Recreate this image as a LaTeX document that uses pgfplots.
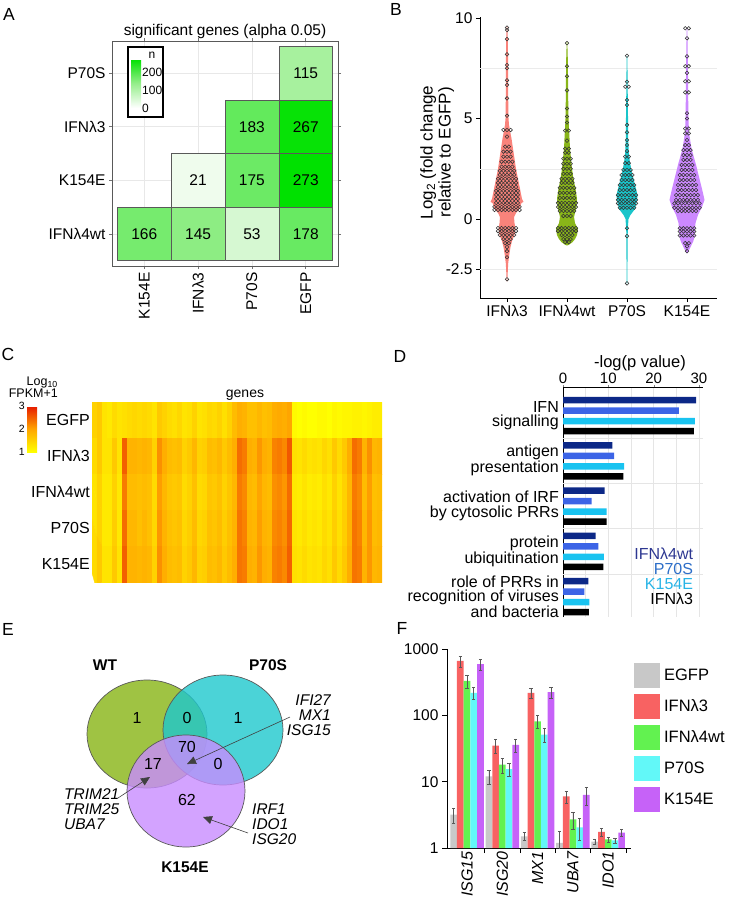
\documentclass[border=0pt]{standalone}
\usepackage{fontspec}
\setmainfont{Liberation Sans}
\usepackage{pgfplots}
\pgfplotsset{compat=1.18}
\usetikzlibrary{calc,arrows.meta}
\newcommand{\fsz}[1]{\fontsize{#1}{#1}\selectfont}

\definecolor{vred}{RGB}{248,118,109}
\definecolor{vgreen}{RGB}{124,174,0}
\definecolor{vcyan}{RGB}{0,191,196}
\definecolor{vpurple}{RGB}{199,124,255}
\definecolor{dnavy}{RGB}{12,40,135}
\definecolor{dblue}{RGB}{60,100,230}
\definecolor{dcyan}{RGB}{25,195,240}
\definecolor{tnavy}{RGB}{45,55,145}
\definecolor{tblue}{RGB}{45,110,200}
\definecolor{tcyan}{RGB}{40,180,230}
\definecolor{fgray}{RGB}{200,200,200}
\definecolor{fred}{RGB}{248,98,98}
\definecolor{fgreen}{RGB}{98,242,80}
\definecolor{fcyan}{RGB}{98,248,248}
\definecolor{fpurple}{RGB}{198,98,248}
\definecolor{vwt}{RGB}{135,180,20}
\definecolor{vpp}{RGB}{30,200,205}
\definecolor{vk}{RGB}{200,140,255}

\pgfplotsset{every axis/.append style={scale only axis, anchor=north west,
  /pgf/number format/assume math mode=true,
  font=\fsz{16}, tick label style={font=\fsz{15.5}}}}

\begin{document}
\begin{tikzpicture}
\path[use as bounding box] (0pt,0pt) rectangle (728pt,-899pt);

% ---------------- A: heat map of significant genes
\begin{axis}[at={(112pt,-41pt)}, width=226pt, height=225pt,
  xmin=0.4, xmax=4.6, ymin=0.4, ymax=4.6,
  xtick={1,2,3,4}, xticklabels={K154E,IFNλ3,P70S,EGFP},
  ytick={1,2,3,4}, yticklabels={IFNλ4wt,K154E,IFNλ3,P70S},
  xticklabel style={rotate=90, anchor=east},
  tick align=outside, major tick length=3pt,
  tick style={black!55, line width=0.6pt},
  axis line style={black!65, line width=0.9pt},
  grid=major, grid style={black!9, line width=0.6pt},
  title={significant genes (alpha 0.05)}, title style={inner sep=0pt, yshift=-4pt, font=\fsz{15.5}},
  colormap={wg}{rgb255(0cm)=(255,255,255) rgb255(1cm)=(150,238,140) rgb255(2cm)=(0,225,0)},
  point meta min=0, point meta max=273,
  colorbar,
  colorbar style={at={($(parent axis.north west)+(10.5pt,-18pt)$)}, anchor=north west,
    width=10pt, height=49pt, ytick={0,100,200}, major tick length=0pt,
    axis line style={draw=none}, yticklabel style={font=\fsz{12}, inner sep=1pt}},
]
\draw[fill=white, line width=1.2pt] (rel axis cs:0.0708,0.662) rectangle (rel axis cs:0.2257,0.973);
\addplot[patch, patch type=rectangle, shader=faceted, faceted color=black!65, line width=0.6pt, point meta=explicit]
 coordinates {
 (3.5,3.5)[115] (4.5,3.5)[115] (4.5,4.5)[115] (3.5,4.5)[115]
 (2.5,2.5)[183] (3.5,2.5)[183] (3.5,3.5)[183] (2.5,3.5)[183]
 (3.5,2.5)[267] (4.5,2.5)[267] (4.5,3.5)[267] (3.5,3.5)[267]
 (1.5,1.5)[21] (2.5,1.5)[21] (2.5,2.5)[21] (1.5,2.5)[21]
 (2.5,1.5)[175] (3.5,1.5)[175] (3.5,2.5)[175] (2.5,2.5)[175]
 (3.5,1.5)[273] (4.5,1.5)[273] (4.5,2.5)[273] (3.5,2.5)[273]
 (0.5,0.5)[166] (1.5,0.5)[166] (1.5,1.5)[166] (0.5,1.5)[166]
 (1.5,0.5)[145] (2.5,0.5)[145] (2.5,1.5)[145] (1.5,1.5)[145]
 (2.5,0.5)[53] (3.5,0.5)[53] (3.5,1.5)[53] (2.5,1.5)[53]
 (3.5,0.5)[178] (4.5,0.5)[178] (4.5,1.5)[178] (3.5,1.5)[178]
 };
\addplot[draw=none, mark=none, point meta=explicit symbolic, nodes near coords, nodes near coords align={center},
  every node near coord/.append style={black, font=\fsz{15.5}}]
  table[meta=n]{
x y n
4 4 115
3 3 183
4 3 267
2 2 21
3 2 175
4 2 273
1 1 166
2 1 145
3 1 53
4 1 178
};
\end{axis}
\node[font=\fsz{12}] at (152pt,-55pt) {n};

% ---------------- B: violins
\begin{axis}[at={(480pt,-17pt)}, width=237pt, height=281pt,
  xmin=0.55, xmax=4.5, ymin=-3.93, ymax=10.05,
  axis x line*=bottom, axis y line*=left, axis line style={-, line width=0.8pt},
  xtick={1,2,3,4}, xticklabels={IFNλ3,IFNλ4wt,P70S,K154E},
  ytick={-2.5,0,5,10},
  tick align=outside, major tick length=4pt, tick style={black, line width=0.6pt},
  extra y ticks={-2.5,2.5,7.5}, extra y tick labels={},
  extra y tick style={ymajorgrids, major tick length=0pt, grid style={black!8, line width=0.5pt}},
  ylabel={Log\textsubscript{2} (fold change\\relative to EGFP)},
  ylabel style={align=center, font=\fontsize{17}{18}\selectfont, at={(axis description cs:-0.181,0.518)}, anchor=center},
]
\addplot[fill=vred, draw=none, fill opacity=0.9] coordinates {(1.005,9.6) (1.013,9) (1.017,8) (1.017,7) (1.02,6) (1.025,5) (1.033,4.7) (1.05,4.4) (1.075,4) (1.1,3.5) (1.125,3) (1.15,2.5) (1.183,2) (1.217,1.5) (1.25,1) (1.275,0.85) (1.242,0.8) (1.208,0.5) (1.15,0.3) (1.117,0.1) (1.125,-0.2) (1.142,-0.5) (1.125,-0.8) (1.083,-1.1) (1.058,-1.4) (1.037,-1.8) (1.02,-2.2) (1.013,-2.6) (1.005,-3.1)
 (0.995,-3.1) (0.987,-2.6) (0.98,-2.2) (0.963,-1.8) (0.942,-1.4) (0.917,-1.1) (0.875,-0.8) (0.858,-0.5) (0.875,-0.2) (0.883,0.1) (0.85,0.3) (0.792,0.5) (0.758,0.8) (0.725,0.85) (0.75,1) (0.783,1.5) (0.817,2) (0.85,2.5) (0.875,3) (0.9,3.5) (0.925,4) (0.95,4.4) (0.967,4.7) (0.975,5) (0.98,6) (0.983,7) (0.983,8) (0.987,9) (0.995,9.6)};
\addplot[fill=vgreen, draw=none, fill opacity=0.9] coordinates {(2.005,8.8) (2.013,8) (2.017,7) (2.02,6) (2.025,5) (2.033,4.5) (2.042,4) (2.05,3.5) (2.067,3) (2.083,2.5) (2.108,2) (2.142,1.5) (2.167,1) (2.158,0.6) (2.133,0.3) (2.117,0.1) (2.133,-0.2) (2.183,-0.5) (2.167,-0.8) (2.133,-1) (2.092,-1.15) (2.033,-1.28) (2,-1.32)
 (1.967,-1.28) (1.908,-1.15) (1.867,-1) (1.833,-0.8) (1.817,-0.5) (1.867,-0.2) (1.883,0.1) (1.867,0.3) (1.842,0.6) (1.833,1) (1.858,1.5) (1.892,2) (1.917,2.5) (1.933,3) (1.95,3.5) (1.958,4) (1.967,4.5) (1.975,5) (1.98,6) (1.983,7) (1.987,8) (1.995,8.8)};
\addplot[fill=vcyan, draw=none, fill opacity=0.9] coordinates {(3.005,8.1) (3.01,7) (3.013,6) (3.017,5) (3.02,4) (3.03,3.3) (3.05,2.8) (3.083,2.3) (3.125,1.8) (3.175,1.2) (3.167,0.9) (3.133,0.5) (3.058,0.2) (3.025,0) (3.013,-0.5) (3.01,-1.5) (3.005,-3.2)
 (2.995,-3.2) (2.99,-1.5) (2.987,-0.5) (2.975,0) (2.942,0.2) (2.867,0.5) (2.833,0.9) (2.825,1.2) (2.875,1.8) (2.917,2.3) (2.95,2.8) (2.97,3.3) (2.98,4) (2.983,5) (2.987,6) (2.99,7) (2.995,8.1)};
\addplot[fill=vpurple, draw=none, fill opacity=0.9] coordinates {(4.005,9.5) (4.013,8) (4.017,7) (4.02,6) (4.025,5) (4.033,4.3) (4.075,3.5) (4.15,2.7) (4.208,2) (4.25,1.5) (4.292,0.95) (4.25,0.6) (4.183,0.2) (4.142,-0.2) (4.133,-0.5) (4.125,-0.9) (4.105,-1.1) (4.05,-1.45) (4.008,-1.7)
 (3.992,-1.7) (3.95,-1.45) (3.895,-1.1) (3.875,-0.9) (3.867,-0.5) (3.858,-0.2) (3.817,0.2) (3.75,0.6) (3.708,0.95) (3.75,1.5) (3.792,2) (3.85,2.7) (3.925,3.5) (3.967,4.3) (3.975,5) (3.98,6) (3.983,7) (3.987,8) (3.995,9.5)};
% dots
\addplot[only marks, mark=o, mark size=1.8pt, mark options={draw=black!80, line width=0.55pt}] coordinates {
(1,9.52) (1,9.4) (1,8.95) (1,8.19) (1,7.66) (1,7.5) (1,6.9) (1,6.67) (1,6.0) (1,5.14)
(0.94,4.43) (1,4.43) (1.06,4.43) (1,4.1) (0.97,3.6) (1.03,3.6)
(0.94,3.35) (1,3.35) (1.06,3.35) (0.94,3.1) (1,3.1) (1.06,3.1)
(0.91,2.85) (0.97,2.85) (1.03,2.85) (1.09,2.85) (0.91,2.6) (0.97,2.6) (1.03,2.6) (1.09,2.6)
(0.88,2.4) (0.94,2.4) (1,2.4) (1.06,2.4) (1.12,2.4) (0.88,2.2) (0.94,2.2) (1,2.2) (1.06,2.2) (1.12,2.2)
(0.85,2) (0.91,2) (0.97,2) (1.03,2) (1.09,2) (1.15,2) (0.85,1.8) (0.91,1.8) (0.97,1.8) (1.03,1.8) (1.09,1.8) (1.15,1.8)
(0.85,1.6) (0.91,1.6) (0.97,1.6) (1.03,1.6) (1.09,1.6) (1.15,1.6)
(0.82,1.4) (0.88,1.4) (0.94,1.4) (1,1.4) (1.06,1.4) (1.12,1.4) (1.18,1.4)
(0.82,1.2) (0.88,1.2) (0.94,1.2) (1,1.2) (1.06,1.2) (1.12,1.2) (1.18,1.2)
(0.82,1.0) (0.88,1.0) (0.94,1.0) (1,1.0) (1.06,1.0) (1.12,1.0) (1.18,1.0)
(0.82,0.8) (0.88,0.8) (0.94,0.8) (1,0.8) (1.06,0.8) (1.12,0.8) (1.18,0.8)
(0.79,0.6) (0.85,0.6) (0.91,0.6) (0.97,0.6) (1.03,0.6) (1.09,0.6) (1.15,0.6) (1.21,0.6)
(0.79,0.45) (0.85,0.45) (0.91,0.45) (0.97,0.45) (1.03,0.45) (1.09,0.45) (1.15,0.45) (1.21,0.45)
(0.85,-0.45) (0.91,-0.45) (0.97,-0.45) (1.03,-0.45) (1.09,-0.45) (1.15,-0.45)
(0.85,-0.6) (0.91,-0.6) (0.97,-0.6) (1.03,-0.6) (1.09,-0.6) (1.15,-0.6)
(0.88,-0.8) (0.94,-0.8) (1,-0.8) (1.06,-0.8) (1.12,-0.8)
(0.94,-1) (1,-1) (1.06,-1) (0.97,-1.2) (1.03,-1.2) (1,-1.4) (1,-1.6) (1,-1.9) (1,-3.0)
(2,8.75) (2,7.6) (2,7.1) (2,6.4) (2,5.5) (2,5.1) (2,4.8) (2,3.9)
(1.97,4.4) (2.03,4.4) (1.97,3.5) (2.03,3.5) (1.97,3.3) (2.03,3.3)
(1.94,3) (2,3) (2.06,3) (1.94,2.75) (2,2.75) (2.06,2.75) (1.94,2.5) (2,2.5) (2.06,2.5) (1.94,2.25) (2,2.25) (2.06,2.25)
(1.91,2) (1.97,2) (2.03,2) (2.09,2) (1.91,1.8) (1.97,1.8) (2.03,1.8) (2.09,1.8)
(1.88,1.55) (1.94,1.55) (2,1.55) (2.06,1.55) (2.12,1.55) (1.88,1.3) (1.94,1.3) (2,1.3) (2.06,1.3) (2.12,1.3)
(1.88,1.05) (1.94,1.05) (2,1.05) (2.06,1.05) (2.12,1.05)
(1.85,0.8) (1.91,0.8) (1.97,0.8) (2.03,0.8) (2.09,0.8) (2.15,0.8) (1.85,0.6) (1.91,0.6) (1.97,0.6) (2.03,0.6) (2.09,0.6) (2.15,0.6)
(1.88,0.4) (1.94,0.4) (2,0.4) (2.06,0.4) (2.12,0.4) (1.94,0.15) (2,0.15) (2.06,0.15)
(1.85,-0.45) (1.91,-0.45) (1.97,-0.45) (2.03,-0.45) (2.09,-0.45) (2.15,-0.45)
(1.85,-0.6) (1.91,-0.6) (1.97,-0.6) (2.03,-0.6) (2.09,-0.6) (2.15,-0.6)
(1.91,-0.8) (1.97,-0.8) (2.03,-0.8) (2.09,-0.8) (1.94,-1) (2,-1) (2.06,-1) (1.97,-1.15) (2.03,-1.15)
(3,8.12) (3,6.83) (2.97,6.58) (3.03,6.58) (3,5.92) (3,5.67) (3,4.68) (3,4.31) (3,3.93) (3,3.68) (3,3.38)
(2.97,3.1) (3.03,3.1) (2.97,2.78) (3.03,2.78) (2.94,2.44) (3,2.44) (3.06,2.44)
(2.91,2.19) (2.97,2.19) (3.03,2.19) (3.09,2.19) (2.91,1.94) (2.97,1.94) (3.03,1.94) (3.09,1.94)
(2.88,1.69) (2.94,1.69) (3,1.69) (3.06,1.69) (3.12,1.69) (2.88,1.44) (2.94,1.44) (3,1.44) (3.06,1.44) (3.12,1.44)
(2.85,1.19) (2.91,1.19) (2.97,1.19) (3.03,1.19) (3.09,1.19) (3.15,1.19)
(2.85,0.95) (2.91,0.95) (2.97,0.95) (3.03,0.95) (3.09,0.95) (3.15,0.95)
(2.85,0.78) (2.91,0.78) (2.97,0.78) (3.03,0.78) (3.09,0.78) (3.15,0.78)
(2.88,0.56) (2.94,0.56) (3,0.56) (3.06,0.56) (3.12,0.56) (3,-0.46) (3,-0.85) (3,-3.2)
(3.97,9.49) (4.03,9.49) (4,8.99) (4,8.09) (3.97,7.6) (4.03,7.6) (4,7.27) (3.97,6.85) (4.03,6.85) (3.97,6.3) (4.03,6.3) (4,5.26) (4,5.0)
(3.97,4.5) (4.03,4.5) (3.97,4.26) (4.03,4.26) (4,3.93) (3.97,3.68) (4.03,3.68)
(3.94,3.43) (4,3.43) (4.06,3.43) (3.94,3.18) (4,3.18) (4.06,3.18) (3.94,2.94) (4,2.94) (4.06,2.94)
(3.91,2.69) (3.97,2.69) (4.03,2.69) (4.09,2.69) (3.91,2.44) (3.97,2.44) (4.03,2.44) (4.09,2.44)
(3.88,2.19) (3.94,2.19) (4,2.19) (4.06,2.19) (4.12,2.19) (3.88,1.94) (3.94,1.94) (4,1.94) (4.06,1.94) (4.12,1.94)
(3.85,1.69) (3.91,1.69) (3.97,1.69) (4.03,1.69) (4.09,1.69) (4.15,1.69)
(3.85,1.44) (3.91,1.44) (3.97,1.44) (4.03,1.44) (4.09,1.44) (4.15,1.44)
(3.82,1.19) (3.88,1.19) (3.94,1.19) (4,1.19) (4.06,1.19) (4.12,1.19) (4.18,1.19)
(3.82,0.95) (3.88,0.95) (3.94,0.95) (4,0.95) (4.06,0.95) (4.12,0.95) (4.18,0.95)
(3.79,0.78) (3.85,0.78) (3.91,0.78) (3.97,0.78) (4.03,0.78) (4.09,0.78) (4.15,0.78) (4.21,0.78)
(3.79,0.56) (3.85,0.56) (3.91,0.56) (3.97,0.56) (4.03,0.56) (4.09,0.56) (4.15,0.56) (4.21,0.56)
(3.85,0.4) (3.91,0.4) (3.97,0.4) (4.03,0.4) (4.09,0.4) (4.15,0.4)
(3.88,-0.46) (3.94,-0.46) (4,-0.46) (4.06,-0.46) (4.12,-0.46)
(3.88,-0.62) (3.94,-0.62) (4,-0.62) (4.06,-0.62) (4.12,-0.62)
(3.88,-0.82) (3.94,-0.82) (4,-0.82) (4.06,-0.82) (4.12,-0.82)
(3.97,-1.2) (4.03,-1.2) (4,-1.36) (4,-1.6)};
\end{axis}

% ---------------- C: expression heat map
\begin{axis}[at={(92pt,-402pt)}, width=290pt, height=180pt,
  xmin=-0.5, xmax=57.5, ymin=-0.5, ymax=4.5, y dir=reverse,
  axis line style={draw=none}, xtick=\empty, ytick={0,1,2,3,4},
  yticklabels={EGFP,IFNλ3,IFNλ4wt,P70S,K154E}, major tick length=0pt,
  yticklabel style={font=\fsz{16}, inner sep=2pt},
  title={genes}, title style={inner sep=0pt, font=\fsz{14}, xshift=8pt, yshift=-5pt},
  colormap={yor}{rgb255(0cm)=(255,255,0) rgb255(1cm)=(255,165,0) rgb255(2cm)=(230,25,0)},
  point meta min=1, point meta max=3,
  colorbar,
  colorbar style={at={($(parent axis.north west)+(-73.5pt,-4pt)$)}, anchor=north west,
    width=10pt, height=46pt, ytick={1,2,3}, yticklabel pos=left, major tick length=0pt,
    axis line style={draw=none}, yticklabel style={font=\fsz{10.5}, inner sep=2pt}},
]
\addplot[matrix plot*, mesh/cols=58, point meta=explicit]
  table[header=false, row sep=\\, x expr={mod(\coordindex,58)}, y expr={floor(\coordindex/58)}, meta index=0]{
1.5\\1.6\\1.3\\1.25\\1.4\\1.3\\1.35\\1.4\\1.45\\1.4\\1.45\\1.4\\1.3\\1.6\\1.5\\1.4\\1.35\\1.45\\1.3\\1.35\\
1.5\\1.3\\1.35\\1.45\\1.4\\1.5\\1.35\\1.5\\1.75\\1.9\\1.85\\1.7\\1.7\\1.8\\1.7\\1.75\\1.9\\1.95\\1.9\\2.0\\
1.05\\1.0\\1.05\\1.0\\1.0\\1.05\\1.05\\1.0\\1.1\\1.05\\1.1\\1.1\\1.15\\1.15\\1.1\\1.15\\1.2\\1.2\\
1.4\\1.6\\1.3\\1.3\\1.6\\1.3\\2.5\\1.85\\1.85\\1.8\\1.85\\1.8\\1.5\\2.15\\1.9\\1.75\\1.7\\1.75\\1.5\\1.6\\
1.8\\1.5\\1.55\\1.75\\1.7\\1.8\\1.6\\1.75\\1.9\\2.4\\2.3\\1.9\\1.85\\2.1\\1.9\\1.85\\2.25\\2.3\\2.2\\2.55\\
1.35\\1.3\\1.4\\1.3\\1.35\\1.3\\1.45\\1.35\\1.6\\1.4\\1.6\\1.9\\2.4\\2.3\\1.85\\2.15\\1.8\\1.85\\
1.3\\1.5\\1.25\\1.25\\1.5\\1.25\\2.3\\1.75\\1.75\\1.7\\1.75\\1.7\\1.4\\2.05\\1.8\\1.65\\1.6\\1.65\\1.4\\1.5\\
1.7\\1.4\\1.45\\1.65\\1.6\\1.7\\1.5\\1.65\\1.8\\2.3\\2.2\\1.8\\1.75\\2.0\\1.8\\1.75\\2.15\\2.2\\2.1\\2.4\\
1.25\\1.2\\1.3\\1.2\\1.25\\1.2\\1.35\\1.25\\1.5\\1.3\\1.5\\1.8\\2.3\\2.2\\1.75\\2.05\\1.7\\1.75\\
1.3\\1.5\\1.25\\1.25\\1.55\\1.25\\2.4\\1.8\\1.8\\1.7\\1.8\\1.7\\1.45\\2.1\\1.85\\1.7\\1.65\\1.7\\1.45\\1.55\\
1.75\\1.45\\1.5\\1.7\\1.65\\1.75\\1.55\\1.7\\1.85\\2.35\\2.25\\1.85\\1.8\\2.05\\1.85\\1.8\\2.2\\2.25\\2.15\\2.45\\
1.3\\1.25\\1.35\\1.25\\1.3\\1.25\\1.4\\1.3\\1.55\\1.35\\1.55\\1.85\\2.35\\2.25\\1.8\\2.1\\1.75\\1.8\\
1.4\\1.6\\1.3\\1.3\\1.6\\1.3\\2.5\\1.85\\1.85\\1.8\\1.85\\1.8\\1.5\\2.15\\1.9\\1.75\\1.7\\1.75\\1.5\\1.6\\
1.8\\1.5\\1.55\\1.75\\1.7\\1.8\\1.6\\1.75\\1.9\\2.35\\2.3\\1.9\\1.85\\2.1\\1.9\\1.85\\2.25\\2.3\\2.2\\2.5\\
1.35\\1.3\\1.4\\1.3\\1.35\\1.3\\1.45\\1.35\\1.6\\1.4\\1.6\\1.9\\2.35\\2.3\\1.85\\2.1\\1.8\\1.85\\
};
\end{axis}
\node[anchor=south east, align=right, inner sep=0pt, font=\fontsize{12.5}{11}\selectfont] at (58pt,-398pt) {Log\textsubscript{10}\\FPKM+1};

% ---------------- D: pathways
\begin{axis}[at={(563pt,-387pt)}, width=140pt, height=230pt,
  xbar=0pt, bar width=6.5pt, xmin=0, xmax=30.9, ymin=0.55, ymax=5.63,
  axis x line*=top, axis y line*=left, axis line style={-, line width=0.8pt},
  xtick={0,10,20,30}, minor xtick={5,15,25}, xmajorgrids, xminorgrids,
  grid style={black!10, line width=0.5pt}, minor grid style={black!10, line width=0.5pt},
  tick align=outside, major tick length=2pt, minor tick length=0pt,
  xticklabel style={font=\fsz{15}, inner sep=1pt},
  ytick={1,2,3,4,5}, ytick style={draw=none},
  yticklabels={{role of PRRs in\\recognition of viruses\\and bacteria},{protein\\ubiquitination},{activation of IRF\\by cytosolic PRRs},{antigen\\presentation},{IFN\\signalling}},
  yticklabel style={align=right, font=\fontsize{16}{14.5}\selectfont, inner sep=2pt},
  extra y ticks={1.5,2.5,3.5,4.5}, extra y tick labels={},
  extra y tick style={ymajorgrids, major tick length=0pt},
  xlabel={-log(p value)}, xlabel style={at={(axis description cs:0.55,1)}, anchor=south, inner sep=0pt, yshift=16pt, font=\fsz{16.5}},
  legend style={at={(axis description cs:0.93,0.30)}, anchor=north east, draw=none, fill=none,
    font=\fsz{16}, row sep=0pt, inner sep=0pt, nodes={inner sep=0pt, text height=11.5pt, text depth=3.5pt}},
  legend cell align=right,
]
\addlegendimage{empty legend}\addlegendentry{\textcolor{tnavy}{IFNλ4wt}}
\addlegendimage{empty legend}\addlegendentry{\textcolor{tblue}{P70S}}
\addlegendimage{empty legend}\addlegendentry{\textcolor{tcyan}{K154E}}
\addlegendimage{empty legend}\addlegendentry{IFNλ3}
\addplot[fill=dnavy, draw=none, bar shift=15.5pt, forget plot] coordinates {(29.4,5) (10.9,4) (9.2,3) (7.2,2) (5.6,1)};
\addplot[fill=dblue, draw=none, bar shift=5pt, forget plot] coordinates {(25.6,5) (11.3,4) (6.3,3) (7.8,2) (4.7,1)};
\addplot[fill=dcyan, draw=none, bar shift=-5.5pt, forget plot] coordinates {(29.1,5) (13.5,4) (9.6,3) (9.0,2) (5.8,1)};
\addplot[fill=black, draw=none, bar shift=-15.5pt, forget plot] coordinates {(28.9,5) (13.3,4) (9.6,3) (8.9,2) (5.7,1)};
\end{axis}

% ---------------- E: Venn diagram
\begin{axis}[at={(0pt,-640pt)}, width=364pt, height=259pt, xmin=0, xmax=364, ymin=-899, ymax=-640, hide axis]
\draw[black!65, line width=0.7pt, fill=vwt, fill opacity=0.8] (axis cs:147,-734) ellipse [x radius=60, y radius=54];
\draw[black!65, line width=0.7pt, fill=vpp, fill opacity=0.8] (axis cs:223,-730) ellipse [x radius=60, y radius=55];
\draw[black!65, line width=0.7pt, fill=vk, fill opacity=0.8] (axis cs:186,-791) ellipse [x radius=59, y radius=56];
\end{axis}
\begin{scope}[font=\fsz{16}]
\node[font=\bfseries\fsz{15.5}] at (105pt,-665pt) {WT};
\node[font=\bfseries\fsz{15.5}] at (268pt,-665pt) {P70S};
\node[font=\bfseries\fsz{15.5}] at (185pt,-867pt) {K154E};
\node at (137pt,-718pt) {1};
\node at (187pt,-718pt) {0};
\node at (238pt,-718pt) {1};
\node at (187pt,-747pt) {70};
\node at (153pt,-764pt) {17};
\node at (218pt,-764pt) {0};
\node at (187pt,-800pt) {62};
\node[anchor=east, align=right, inner sep=0pt, font=\itshape\fontsize{15.5}{15}\selectfont] at (331pt,-715pt) {IFI27\\MX1\\ISG15};
\node[anchor=west, align=left, inner sep=0pt, font=\itshape\fontsize{15.5}{15}\selectfont] at (64pt,-809pt) {TRIM21\\TRIM25\\UBA7};
\node[anchor=west, align=left, inner sep=0pt, font=\itshape\fontsize{15.5}{15}\selectfont] at (252pt,-824pt) {IRF1\\IDO1\\ISG20};
\end{scope}
\draw[black!75, line width=0.6pt, -{Triangle[length=9pt, width=8pt]}] (290pt,-717pt) -- (187pt,-764pt);
\draw[black!75, line width=0.6pt, -{Triangle[length=9pt, width=8pt]}] (118pt,-798pt) -- (150pt,-777pt);
\draw[black!75, line width=0.6pt, -{Triangle[length=9pt, width=8pt]}] (248pt,-833pt) -- (203pt,-817pt);

% ---------------- F: qPCR bars
\begin{axis}[at={(447pt,-649pt)}, width=184pt, height=199pt,
  ymode=log, ymin=1, ymax=1000, log origin=0, yminorticks=false,
  ybar=0pt, bar width=6.7pt,
  xmin=0.433, xmax=5.646,
  axis x line*=bottom, axis y line*=left, axis line style={-, line width=0.8pt},
  xtick={1.5,2.5,3.5,4.5,5.5}, xticklabels={},
  extra x ticks={1,2,3,4,5}, extra x tick labels={ISG15,ISG20,MX1,UBA7,IDO1},
  extra x tick style={major tick length=0pt, xticklabel style={rotate=90, anchor=east, font=\itshape\fsz{16}}},
  tick align=outside, major tick length=5pt, tick style={black, line width=0.6pt},
  ytick={1,10,100,1000}, yticklabels={1,10,100,1000},
  yticklabel style={font=\fsz{15.5}},
  legend style={at={(axis description cs:1.016,0.93)}, anchor=north west, draw=none, fill=none,
    font=\fsz{16.5}, row sep=6pt, column sep=4pt, inner sep=0pt, nodes={inner sep=0pt}},
  legend cell align=left,
  every axis plot/.append style={draw=none, forget plot,
    error bars/y dir=both, error bars/y explicit,
    error bars/error bar style={black!65, line width=0.5pt},
    error bars/error mark options={rotate=90, black!65, mark size=1.6pt, line width=0.5pt}},
]
\addlegendimage{legend image code/.code={\fill[fgray] (0pt,-12.5pt) rectangle (26pt,12.5pt);}}\addlegendentry{EGFP}
\addlegendimage{legend image code/.code={\fill[fred] (0pt,-12.5pt) rectangle (26pt,12.5pt);}}\addlegendentry{IFNλ3}
\addlegendimage{legend image code/.code={\fill[fgreen] (0pt,-12.5pt) rectangle (26pt,12.5pt);}}\addlegendentry{IFNλ4wt}
\addlegendimage{legend image code/.code={\fill[fcyan] (0pt,-12.5pt) rectangle (26pt,12.5pt);}}\addlegendentry{P70S}
\addlegendimage{legend image code/.code={\fill[fpurple] (0pt,-12.5pt) rectangle (26pt,12.5pt);}}\addlegendentry{K154E}
\addplot[fill=fgray, bar shift=-13.4pt] table[x=x, y=y, y error=e]{
x y e
1 3.2 0.8
2 12 3
3 1.5 0.2
4 1.2 0.6
5 1.25 0.12
};
\addplot[fill=fred, bar shift=-6.7pt] table[x=x, y=y, y error=e]{
x y e
1 660 120
2 35 8
3 218 40
4 6.0 1.2
5 1.75 0.22
};
\addplot[fill=fgreen, bar shift=0pt] table[x=x, y=y, y error=e]{
x y e
1 330 70
2 18 4.5
3 81 18
4 2.7 0.8
5 1.35 0.12
};
\addplot[fill=fcyan, bar shift=6.7pt] table[x=x, y=y, y error=e]{
x y e
1 219 45
2 15.5 3.5
3 51 12
4 2.05 0.75
5 1.3 0.12
};
\addplot[fill=fpurple, bar shift=13.4pt] table[x=x, y=y, y error=e]{
x y e
1 594 110
2 36 8
3 223 40
4 6.3 1.9
5 1.7 0.2
};
\end{axis}

% panel letters
\begin{scope}[font=\fsz{17.5}]
\node at (9pt,-14pt) {A};
\node at (396pt,-9pt) {B};
\node at (8pt,-354pt) {C};
\node at (400pt,-356pt) {D};
\node at (8pt,-629pt) {E};
\node at (402pt,-628pt) {F};
\end{scope}
\end{tikzpicture}
\end{document}
